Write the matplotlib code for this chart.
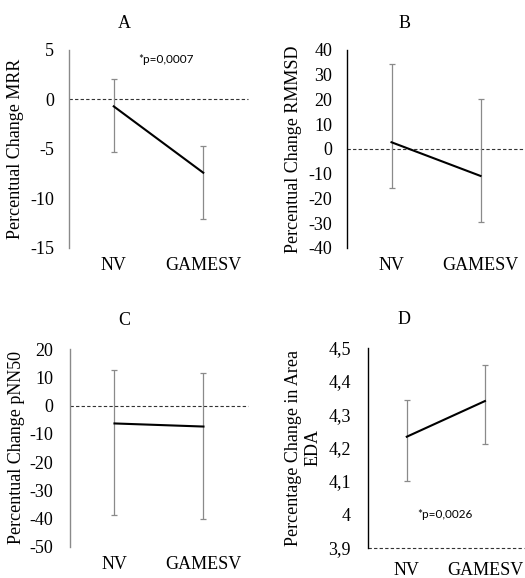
import numpy as np
import matplotlib
matplotlib.use('Agg')
import matplotlib.pyplot as plt

plt.rcParams['font.family'] = ['Liberation Serif', 'DejaVu Serif']

# Данные
groups = ['NV', 'GAMESV']

mrr_mean = [-0.7, -7.4]
mrr_low = [-5.35, -12.1]
mrr_high = [2.05, -4.7]

rmssd_mean = [2.7, -10.9]
rmssd_low = [-15.9, -29.6]
rmssd_high = [34.3, 20.3]

pnn50_mean = [-6.3, -7.4]
pnn50_low = [-38.8, -40.1]
pnn50_high = [12.5, 11.6]

eda_mean = [4.233, 4.34]
eda_low = [4.10, 4.21]
eda_high = [4.343, 4.449]

fig = plt.figure(figsize=(5.25, 5.78), dpi=100)


def panel(rect, mean, low, high, ylim, yticks, yticklabels, ylabel, title, title_xy,
          spine_color, base, label_x, xpad, ypad, ptext=None):
    ax = fig.add_axes(rect)
    x = np.arange(len(groups))
    mean = np.array(mean)
    yerr = [mean - np.array(low), np.array(high) - mean]
    ax.errorbar(x, mean, yerr=yerr, fmt='none', ecolor='#8a8a8a', elinewidth=0.9,
                capsize=2.3, capthick=0.9, zorder=2)
    ax.plot(x, mean, color='black', lw=1.5, zorder=3)
    ax.axhline(base, color='#333333', lw=0.8, linestyle=(0, (3, 2)), zorder=1,
               clip_on=False)
    ax.set_xlim(-0.5, 1.5)
    ax.set_ylim(*ylim)
    ax.set_yticks(yticks)
    ax.set_yticklabels(yticklabels)
    ax.set_xticks(x)
    ax.set_xticklabels(groups)
    for s in ['top', 'right', 'bottom']:
        ax.spines[s].set_visible(False)
    ax.spines['left'].set_color(spine_color)
    ax.spines['left'].set_linewidth(1.0)
    ax.tick_params(axis='y', length=0, pad=ypad, labelsize=13)
    ax.tick_params(axis='x', length=0, pad=xpad, labelsize=13)
    ax.patch.set_visible(False)
    ax.text(label_x, 0.5, ylabel, transform=ax.transAxes, rotation=90,
            ha='center', va='center', multialignment='center', fontsize=13)
    fig.text(title_xy[0], title_xy[1], title, ha='center', va='center', fontsize=13)
    if ptext is not None:
        ax.text(ptext[0], ptext[1], ptext[2], ha='center', va='center',
                fontsize=8.5, family=['Lato', 'DejaVu Sans'])
    return ax


panel([0.1314, 0.571, 0.341, 0.3426], mrr_mean, mrr_low, mrr_high,
      (-15, 5), [5, 0, -5, -10, -15], ['5', '0', '-5', '-10', '-15'],
      'Percentual Change MRR', 'A', (0.236, 0.96), '#8a8a8a', 0, -0.30, 6.5, 10.8,
      ptext=(0.58, 4.0, '*p=0,0007'))

yt_b = list(range(40, -41, -10))
panel([0.661, 0.571, 0.339, 0.3426], rmssd_mean, rmssd_low, rmssd_high,
      (-40, 40), yt_b, [str(v) for v in yt_b],
      'Percentual Change RMMSD', 'B', (0.771, 0.96), 'black', 0, -0.30, 6.5, 10.8)

yt_c = list(range(20, -51, -10))
panel([0.1333, 0.0542, 0.339, 0.3415], pnn50_mean, pnn50_low, pnn50_high,
      (-50, 20), yt_c, [str(v) for v in yt_c],
      'Percentual Change pNN50', 'C', (0.236, 0.446), '#8a8a8a', 0, -0.303, 7, 12)

yt_d = [4.5, 4.4, 4.3, 4.2, 4.1, 4.0, 3.9]
panel([0.7004, 0.0524, 0.2977, 0.346], eda_mean, eda_low, eda_high,
      (3.9, 4.5), yt_d, ['4,5', '4,4', '4,3', '4,2', '4,1', '4', '3,9'],
      'Percentage Change in Area\nEDA', 'D', (0.77, 0.448), 'black', 3.9, -0.41, 10, 12,
      ptext=(0.49, 4.0, '*p=0,0026'))

fig.savefig('out.png', dpi=100)
